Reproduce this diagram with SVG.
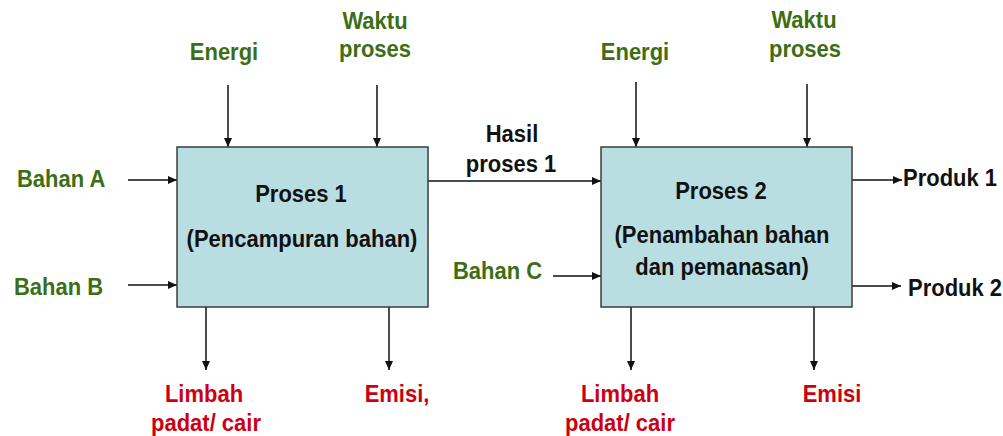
<svg xmlns="http://www.w3.org/2000/svg" width="1003" height="436" viewBox="0 0 1003 436">
<style>
text { font-family: "Liberation Sans", Arial, sans-serif; font-weight: bold; font-size: 22px; }
.g { fill: #3d6e14; }
.r { fill: #cc0010; }
.k { fill: #111111; }
.m { text-anchor: middle; }
.box { fill: #b8dee2; stroke: #3c3c3c; stroke-width: 1.5; }
.c { stroke: #111111; stroke-width: 1.5; fill: none; marker-end: url(#ah); }
</style>
<defs>
<marker id="ah" markerUnits="userSpaceOnUse" markerWidth="10" markerHeight="10" refX="9" refY="4" orient="auto">
<path d="M0,0 L9,4 L0,8 Z" fill="#111111"/>
</marker>
</defs>
<rect width="1003" height="436" fill="#ffffff"/>
<g id="connectors">
<line class="c" x1="228" y1="85" x2="228" y2="147"/>
<line class="c" x1="377" y1="85" x2="377" y2="147"/>
<line class="c" x1="128" y1="180" x2="177" y2="180"/>
<line class="c" x1="128" y1="285" x2="177" y2="285"/>
<line class="c" x1="428" y1="181" x2="601" y2="181"/>
<line class="c" x1="553" y1="276" x2="601" y2="276"/>
<line class="c" x1="636" y1="82" x2="636" y2="147"/>
<line class="c" x1="807" y1="84" x2="807" y2="147"/>
<line class="c" x1="852" y1="180" x2="902" y2="180"/>
<line class="c" x1="852" y1="286" x2="901" y2="286"/>
<line class="c" x1="206" y1="307" x2="206" y2="370"/>
<line class="c" x1="389" y1="307" x2="389" y2="370"/>
<line class="c" x1="631" y1="307" x2="631" y2="370"/>
<line class="c" x1="814" y1="307" x2="814" y2="370"/>
</g>
<g id="proses1">
<rect class="box" x="177" y="147" width="251" height="160"/>
<text class="k m" transform="translate(301,202) scale(1,1.08)">Proses 1</text>
<text class="k m" transform="translate(302,247) scale(1,1.08)">(Pencampuran bahan)</text>
</g>
<g id="proses2">
<rect class="box" x="601" y="147" width="251" height="160"/>
<text class="k m" transform="translate(721,199) scale(1,1.08)">Proses 2</text>
<text class="k m" transform="translate(722,243) scale(1,1.08)">(Penambahan bahan</text>
<text class="k m" transform="translate(722,275) scale(1,1.08)">dan pemanasan)</text>
</g>
<g id="energi1"><text class="g m" transform="translate(224,60) scale(1,1.08)">Energi</text></g>
<g id="waktu1"><text class="g m" transform="translate(375,29) scale(1,1.08)">Waktu</text><text class="g m" transform="translate(375,57) scale(1,1.08)">proses</text></g>
<g id="bahanA"><text class="g" transform="translate(17,187) scale(1,1.08)">Bahan A</text></g>
<g id="bahanB"><text class="g" transform="translate(14,295) scale(1,1.08)">Bahan B</text></g>
<g id="hasil"><text class="k m" transform="translate(512,142) scale(1,1.08)">Hasil</text><text class="k m" transform="translate(511,172) scale(1,1.08)">proses 1</text></g>
<g id="energi2"><text class="g m" transform="translate(635,60) scale(1,1.08)">Energi</text></g>
<g id="waktu2"><text class="g m" transform="translate(804,28) scale(1,1.08)">Waktu</text><text class="g m" transform="translate(805,57) scale(1,1.08)">proses</text></g>
<g id="bahanC"><text class="g" transform="translate(453,279) scale(1,1.08)">Bahan C</text></g>
<g id="produk1"><text class="k" transform="translate(903,186) scale(1,1.08)">Produk 1</text></g>
<g id="produk2"><text class="k" transform="translate(908,296) scale(1,1.08)">Produk 2</text></g>
<g id="limbah1"><text class="r m" transform="translate(204,402) scale(1,1.08)">Limbah</text><text class="r m" transform="translate(206,431) scale(1,1.08)">padat/ cair</text></g>
<g id="emisi1"><text class="r m" transform="translate(397,402) scale(1,1.08)">Emisi,</text></g>
<g id="limbah2"><text class="r m" transform="translate(620,402) scale(1,1.08)">Limbah</text><text class="r m" transform="translate(620,431) scale(1,1.08)">padat/ cair</text></g>
<g id="emisi2"><text class="r m" transform="translate(832,402) scale(1,1.08)">Emisi</text></g>
</svg>
